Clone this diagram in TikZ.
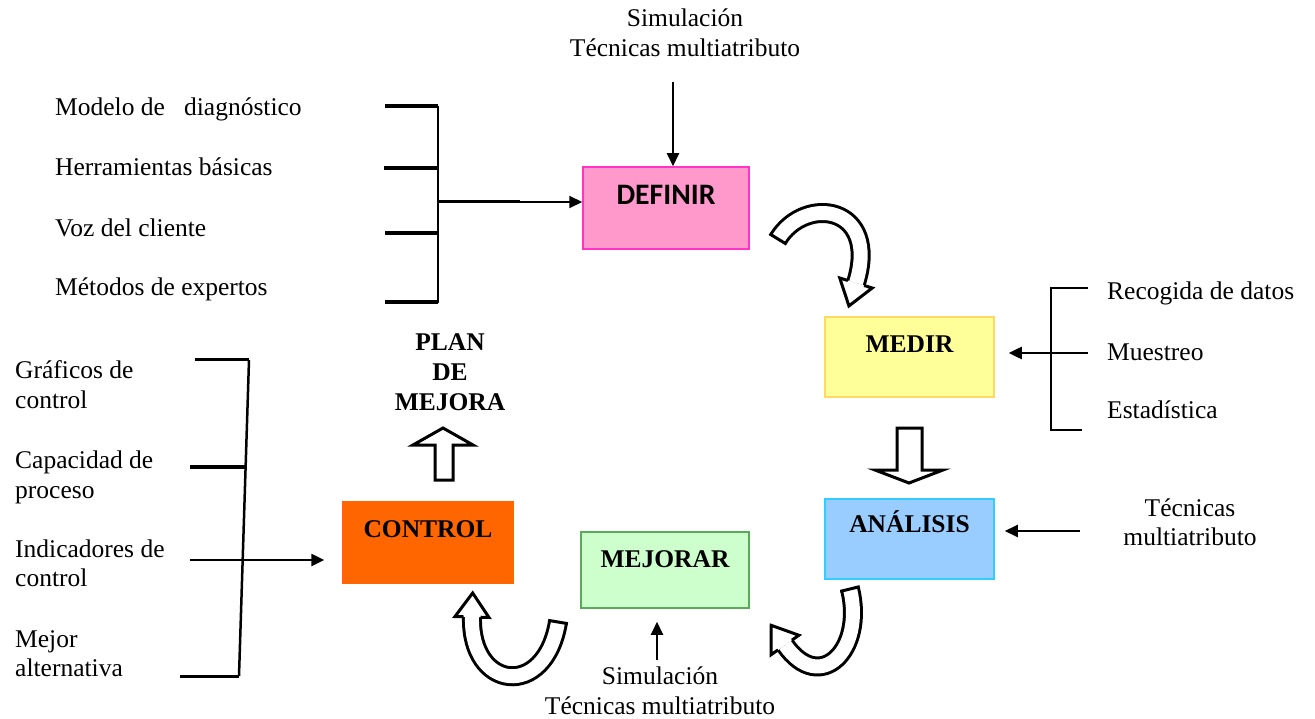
\documentclass[tikz,border=0pt]{standalone}
\usepackage{fontspec}
\setmainfont{Liberation Serif}
\newfontfamily\calfont{Carlito}
\usetikzlibrary{arrows.meta,calc}
\definecolor{pinkF}{RGB}{255,153,204}
\definecolor{pinkD}{RGB}{255,51,204}
\definecolor{yelF}{RGB}{255,255,153}
\definecolor{yelD}{RGB}{255,217,102}
\definecolor{bluF}{RGB}{153,204,255}
\definecolor{bluD}{RGB}{51,204,255}
\definecolor{grnF}{RGB}{204,255,204}
\definecolor{grnD}{RGB}{90,170,90}
\definecolor{orgF}{RGB}{255,102,0}
\newcommand{\hollowarc}[4]{%
  \draw[line width=20pt] (#1) .. controls (#2) and (#3) .. (#4);
  \draw[white,line width=14pt] (#1) .. controls (#2) and (#3) .. (#4);
  \draw[line width=3pt] ($(#1)!10pt!90:(#2)$) -- ($(#1)!10pt!-90:(#2)$);
  \fill[white] ($(#4)!17pt!90:(#3)$) -- ($(#4)!-24pt!(#3)$) -- ($(#4)!17pt!-90:(#3)$) -- cycle;
  \draw[line width=3pt, line join=miter] ($(#4)!8.5pt!90:(#3)$) -- ($(#4)!17pt!90:(#3)$) -- ($(#4)!-24pt!(#3)$) -- ($(#4)!17pt!-90:(#3)$) -- ($(#4)!8.5pt!-90:(#3)$);
}
\begin{document}
\begin{tikzpicture}[x=1pt,y=-1pt,
  txt/.style={font=\fontsize{25.5}{30}\selectfont, inner sep=0pt, text height=0.7em, text depth=0.22em},
  lbl/.style={font=\bfseries\fontsize{25.5}{30}\selectfont, inner sep=0pt, text height=0.68em, text depth=0pt},
  box/.style={line width=1.5pt, inner sep=0pt},
  arr/.style={line width=2pt, -{Triangle[length=13pt,width=12pt]}},
  tick/.style={line width=3.5pt},
  vline/.style={line width=2pt},
  hollow/.style={draw, fill=white, line width=3pt, line join=miter}]
\useasboundingbox (0,0) rectangle (1315,719);

% boxes
\node[box, fill=pinkF, draw=pinkD, minimum width=166pt, minimum height=82pt] (def) at (666,208) {};
\node[box, fill=yelF, draw=yelD, minimum width=169pt, minimum height=80pt] (med) at (909.5,357) {};
\node[box, fill=bluF, draw=bluD, minimum width=169pt, minimum height=80pt] (ana) at (909.5,539) {};
\node[box, fill=grnF, draw=grnD, minimum width=168pt, minimum height=76pt] (mej) at (665,570) {};
\node[box, fill=orgF, draw=orgF, minimum width=170pt, minimum height=81pt] (ctl) at (428,542.5) {};

\node[lbl, font=\calfont\bfseries\fontsize{29.7}{34}\selectfont] (defT) at (666,201) {DEFINIR};
\node[lbl] (medT) at (909.5,349) {MEDIR};
\node[lbl] (anaT) at (909.5,529) {ANÁLISIS};
\node[lbl] (mejT) at (665,564) {MEJORAR};
\node[lbl] (ctlT) at (428,534) {CONTROL};

% top inputs
\node[txt] (sim1) at (685,24) {Simulación};
\node[txt] (sim2) at (685,54) {Técnicas multiatributo};
\coordinate (a1) at (673,82);
\draw[arr] (a1) -- (a1 |- def.north);

% top-left bracket
\node[txt, anchor=west] (l1) at (55,113) {Modelo de\ \ \ diagnóstico};
\node[txt, anchor=west] (l2) at (55,173) {Herramientas básicas};
\node[txt, anchor=west] (l3) at (55,234) {Voz del cliente};
\node[txt, anchor=west] (l4) at (55,293) {Métodos de expertos};
\coordinate (b1t) at (438,106);
\coordinate (b1b) at (438,303);
\draw[vline] (b1t) -- (b1b);
\draw[line width=4pt] (385,106) -- (b1t);
\draw[tick] (384,168) -- (438,168);
\draw[tick] (385,233) -- (438,233);
\draw[line width=4pt] (385,302) -- (438,302);
\coordinate (b1m) at (438,202);
\draw[line width=3pt] (b1m) -- (520,202);
\draw[arr] (520,202) -- (b1m -| def.west);

% plan de mejora
\node[lbl] (p1) at (450,347) {PLAN};
\node[lbl] (p2) at (450,377) {DE};
\node[lbl] (p3) at (450,407) {MEJORA};
\draw[hollow] (435,480) -- (435,445) -- (413,445) -- (443,428) -- (473,445) -- (453,445) -- (453,480) -- cycle;

% lower-left bracket
\node[txt, anchor=west] (g1) at (15,376) {Gráficos de};
\node[txt, anchor=west] (g2) at (15,406) {control};
\node[txt, anchor=west] (c1) at (15,466) {Capacidad de};
\node[txt, anchor=west] (c2) at (15,496) {proceso};
\node[txt, anchor=west] (i1) at (15,555) {Indicadores de};
\node[txt, anchor=west] (i2) at (15,584) {control};
\node[txt, anchor=west] (m1) at (15,645) {Mejor};
\node[txt, anchor=west] (m2) at (15,674) {alternativa};
\coordinate (b2t) at (249,360);
\coordinate (b2b) at (239,676);
\draw[line width=2.5pt] (b2t) -- (b2b);
\draw[line width=3pt] (195,360) -- (b2t);
\draw[line width=4pt] (190,467) -- (245.5,467);
\draw[line width=3pt] (180,676) -- (b2b);
\coordinate (b2m) at (190,560);
\draw[arr, line width=2.5pt, shorten >=18pt] (b2m) -- (b2m -| ctl.west);

% MEDIR bracket
\node[txt, anchor=west] (r1) at (1107,297) {Recogida de datos};
\node[txt, anchor=west] (r2) at (1107,358) {Muestreo};
\node[txt, anchor=west] (r3) at (1107,416) {Estadística};
\draw[line width=2.5pt] (1088,288) -- (1051,288) -- (1051,430) -- (1082,430);
\coordinate (b3m) at (1088,353);
\draw[arr, line width=2.5pt, shorten >=14pt] (b3m) -- (b3m -| med.east);

% ANALISIS input
\node[txt] (t1) at (1190,514) {Técnicas};
\node[txt] (t2) at (1190,543) {multiatributo};
\coordinate (a4) at (1080,531);
\draw[arr, shorten >=10pt] (a4) -- (a4 -| ana.east);
\draw[hollow] (897,428) -- (922,428) -- (922,470) -- (943,470) -- (909,483) -- (875,470) -- (897,470) -- cycle;

% MEJORAR input
\node[txt] (s1) at (660,682) {Simulación};
\node[txt] (s2) at (660,712) {Técnicas multiatributo};
\coordinate (a5) at (657,660);
\draw[arr, shorten >=13pt] (a5) -- (a5 |- mej.south);

% curved hollow arrows
\hollowarc{778,239}{805,195}{880,205}{856,283}
\hollowarc{850,589}{865,650}{820,695}{785,645}
\hollowarc{558,622}{545,700}{470,690}{472,617}
\end{tikzpicture}
\end{document}
